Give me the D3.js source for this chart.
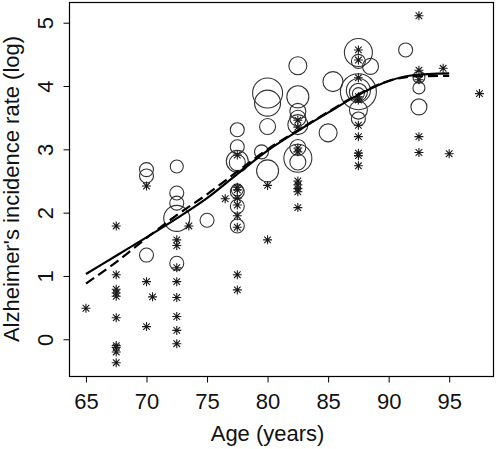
<!DOCTYPE html>
<html><head><meta charset="utf-8">
<script src="https://cdn.jsdelivr.net/npm/d3@7"></script>
<style>body{margin:0;background:#fff}svg{display:block}text{font-family:"Liberation Sans",Arial,sans-serif;fill:#111}</style>
</head><body>
<svg id="c" width="498" height="449"></svg>
<script>
// ---- data ----
const xTicks = [65, 70, 75, 80, 85, 90, 95];
const yTicks = [0, 1, 2, 3, 4, 5];
const xLabel = "Age (years)";
const yLabel = "Alzheimer's incidence rate (log)";

// open circles: age, log rate, weight
const circleAge = [70,70,70,72.5,72.5,72.5,72.5,72.5,75,77.5,77.5,77.5,77.5,77.5,77.5,77.5,77.5,79.5,80,80,80,80,82.5,82.5,82.5,82.5,82.5,82.5,82.5,82.5,85,85.4,87.5,87.5,88.5,87.5,87.5,87.5,87.5,87.5,87.5,91.4,92.5,92.5,92.5];
const circleRate = [2.68,2.58,1.33,2.73,2.31,2.15,1.91,1.20,1.88,3.31,3.04,2.81,2.79,2.36,2.33,2.10,1.79,2.96,3.89,3.73,3.36,2.66,4.32,3.83,3.60,3.49,3.39,3.03,2.86,2.80,3.26,4.07,4.53,4.39,4.31,3.91,3.93,3.90,3.88,3.62,3.48,4.57,4.14,3.97,3.67];
const circleWeight = [7,7,7,6.5,7,7,13,7,7,7,7,11,8,6,7,7,7,7,15,13,8,11,9,11,8,8,10,8,14,8,9,10,14,7,8,18,12,9,6,9,7,7,6,6,8];

// asterisks: age, log rate
const starAge = [65,67.5,67.5,67.5,67.5,67.5,67.5,67.5,67.5,67.5,67.5,70,70,70,70.5,72.5,72.5,72.5,72.5,72.5,72.5,72.5,72.5,73.5,76.5,77.5,77.5,77.5,77.5,77.5,77.5,77.5,77.5,77.5,80,80,82.5,82.5,82.5,82.5,82.5,82.5,82.5,82.5,82.5,87.5,87.5,87.5,87.5,87.5,87.5,87.5,87.5,87.5,87.5,92.5,92.5,92.5,92.5,92.5,94.5,95,97.5];
const starRate = [0.49,1.79,1.02,0.79,0.73,0.68,0.34,-0.10,-0.13,-0.20,-0.37,2.42,0.91,0.20,0.67,1.57,1.48,1.13,0.91,0.66,0.36,0.14,-0.07,1.79,2.22,2.91,2.40,2.36,2.23,2.12,1.95,1.77,1.02,0.78,2.43,1.57,3.46,3.35,3.02,2.96,2.50,2.44,2.38,2.33,2.08,4.57,4.41,4.13,3.83,3.78,3.38,3.20,2.94,2.90,2.74,5.11,4.25,4.10,3.20,2.95,4.28,2.93,3.88];

// fitted curves
const curveAge = [65,67.5,70,72.5,75,77.5,80,82.5,85,87.5,90,92,95];
const solidFit = [1.03,1.32,1.61,1.91,2.23,2.61,2.98,3.29,3.58,3.86,4.08,4.17,4.20];
const dashedFit = [0.88,1.22,1.60,1.96,2.29,2.65,3.00,3.30,3.59,3.87,4.08,4.15,4.16];

// ---- chart ----
const svg = d3.select("#c");
const L = 69, R = 494, T = 2, B = 376;
const x = d3.scaleLinear().domain([63.6, 98.7]).range([L, R]);
const y = d3.scaleLinear().domain([-0.58, 5.327]).range([B, T]);
const rScale = d3.scaleLinear().domain([0, 1]).range([0, 1]);

const g = svg.append("g");

// circles
g.selectAll("circle.pt").data(d3.range(circleAge.length)).join("circle")
  .attr("cx", i => x(circleAge[i])).attr("cy", i => y(circleRate[i]))
  .attr("r", i => rScale(circleWeight[i]))
  .attr("fill", "none").attr("stroke", "#333").attr("stroke-width", 1.1);

// asterisks (pch 8)
const s = 4.5, d = 3.3;
const star = g.selectAll("g.star").data(d3.range(starAge.length)).join("g")
  .attr("transform", i => `translate(${x(starAge[i])},${y(starRate[i])})`);
star.append("path")
  .attr("d", `M${-s},0H${s}M0,${-s}V${s}M${-d},${-d}L${d},${d}M${-d},${d}L${d},${-d}`)
  .attr("stroke", "#1a1a1a").attr("stroke-width", 1.1).attr("fill", "none");

// curves
const line = d3.line().curve(d3.curveMonotoneX);
g.append("path").attr("d", line(curveAge.map((a, i) => [x(a), y(dashedFit[i])])))
  .attr("fill", "none").attr("stroke", "#000").attr("stroke-width", 2.2).attr("stroke-dasharray", "10,5");
g.append("path").attr("d", line(curveAge.map((a, i) => [x(a), y(solidFit[i])])))
  .attr("fill", "none").attr("stroke", "#000").attr("stroke-width", 2.2);

// box
svg.append("rect").attr("x", L + 0.5).attr("y", T + 0.5).attr("width", R - L - 1).attr("height", B - T)
  .attr("fill", "none").attr("stroke", "#000").attr("stroke-width", 1.2);

// x axis
const xa = svg.append("g").attr("transform", `translate(0,${B + 0.5})`)
  .call(d3.axisBottom(x).tickValues(xTicks).tickSize(6).tickPadding(4).tickFormat(d3.format("d")));
xa.select(".domain").attr("d", `M${x(65)},0H${x(95)}`).attr("stroke", "#000");
xa.selectAll(".tick line").attr("stroke", "#000");
xa.selectAll(".tick text").attr("font-size", 22).attr("fill", "#111").attr("dy", null).attr("y", 0)
  .attr("transform", "translate(0,32)");

// y axis
const ya = svg.append("g").attr("transform", `translate(${L + 0.5},0)`)
  .call(d3.axisLeft(y).tickValues(yTicks).tickSize(6).tickFormat(d3.format("d")));
ya.select(".domain").attr("d", `M0,${y(0)}V${y(5)}`).attr("stroke", "#000");
ya.selectAll(".tick line").attr("stroke", "#000");
ya.selectAll(".tick text").attr("font-size", 22).attr("fill", "#111")
  .attr("x", null).attr("dy", null).attr("text-anchor", "middle")
  .attr("transform", `translate(${52 - L},0) rotate(-90)`);

// axis titles
svg.append("text").attr("x", x(80)).attr("y", 441).attr("text-anchor", "middle")
  .attr("font-size", 22).text(xLabel);
svg.append("text").attr("transform", `translate(19,${(T + B) / 2}) rotate(-90)`)
  .attr("text-anchor", "middle").attr("font-size", 22).text(yLabel);
</script>
</body></html>
